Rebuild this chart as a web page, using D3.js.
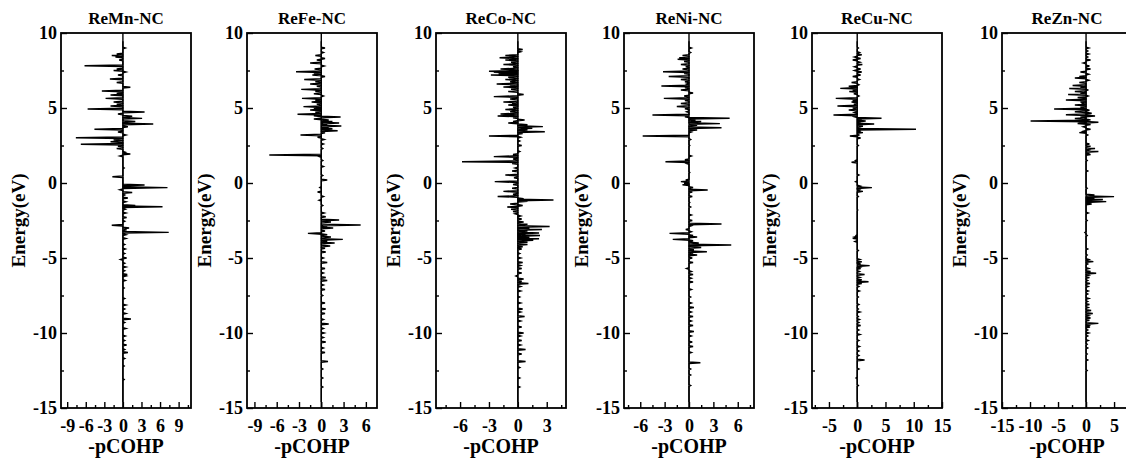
<!DOCTYPE html>
<html>
<head>
<meta charset="utf-8">
<script src="https://cdn.jsdelivr.net/npm/d3@7"></script>
<style>
body { margin: 0; background: #fff; }
text { font-family: "Liberation Serif", "Times New Roman", serif; font-weight: bold; fill: #000; }
</style>
</head>
<body>
<svg width="1126" height="464"></svg>
<script>
/*
Data
*/
// panel titles and axis setup
var titles = ["ReMn-NC", "ReFe-NC", "ReCo-NC", "ReNi-NC", "ReCu-NC", "ReZn-NC"];
var xDomains = [[-10, 11], [-10, 7.5], [-8.5, 5], [-8, 8], [-8, 15], [-15, 8.2]];
var xMajor = [
    [-9, -6, -3, 0, 3, 6, 9],
    [-9, -6, -3, 0, 3, 6],
    [-6, -3, 0, 3],
    [-6, -3, 0, 3, 6],
    [-5, 0, 5, 10, 15],
    [-15, -10, -5, 0, 5]
];
var xMinor = [
    [-7.5, -4.5, -1.5, 1.5, 4.5, 7.5, 10.5],
    [-7.5, -4.5, -1.5, 1.5, 4.5, 7.5],
    [-7.5, -4.5, -1.5, 1.5, 4.5],
    [-7.5, -4.5, -1.5, 1.5, 4.5, 7.5],
    [-7.5, -2.5, 2.5, 7.5, 12.5],
    [-12.5, -7.5, -2.5, 2.5, 7.5]
];
var yMajor = [-15, -10, -5, 0, 5, 10];
var yMinor = [-12.5, -7.5, -2.5, 2.5, 7.5];

// -pCOHP peaks, [energy (eV), value]
var reMn = [[9.0,0.4],[8.6,-1.0],[8.5,-1.8],[8.4,-1.2],[8.2,-0.6],[7.82,-6.2],[7.6,-1.0],[7.5,-1.5],[7.4,0.5],[7.2,-0.8],
    [6.93,-2.1],[6.7,-1.0],[6.38,1.2],[6.13,-3.4],[5.97,-1.0],[5.87,-2.0],[5.64,-2.8],[5.4,-1.5],[5.25,-1.0],[5.13,-2.0],
    [4.93,-5.7],[4.73,3.5],[4.6,-0.8],[4.45,1.5],[4.31,3.1],[4.1,2.0],[3.93,4.9],[3.75,0.8],[3.58,-4.6],[3.4,-0.8],
    [3.2,0.5],[3.02,-7.6],[2.88,-1.5],[2.75,-2.0],[2.58,-6.8],[2.45,-0.8],[2.3,-1.0],[2.05,0.4],[1.93,1.2],[1.8,-0.5],
    [1.0,0.2],[0.42,-1.7],[-0.13,3.5],[-0.22,1.0],[-0.31,7.2],[-0.45,-0.5],[-0.63,1.5],[-0.8,0.3],[-1.0,0.8],[-1.25,0.5],
    [-1.5,2.0],[-1.58,6.4],[-1.75,0.4],[-2.0,0.5],[-2.3,0.6],[-2.55,0.3],[-2.82,-1.8],[-3.0,1.0],[-3.12,0.6],[-3.29,7.4],
    [-3.45,0.5],[-3.7,0.5],[-4.1,0.3],[-4.4,0.4],[-4.7,0.3],[-5.0,0.6],[-5.1,-0.4],[-5.35,0.3],[-5.6,0.5],[-5.85,0.3],
    [-6.1,0.7],[-6.2,0.5],[-6.5,0.4],[-7.0,0.2],[-7.7,0.3],[-8.13,0.5],[-8.4,0.3],[-8.7,0.5],[-9.07,1.3],[-9.3,0.3],
    [-9.7,0.5],[-10.2,0.4],[-10.5,0.3],[-10.8,0.6],[-11.1,0.3],[-11.3,0.8],[-11.7,0.3],[-12.2,0.2],[-13.1,0.2]];
var reFe = [[9.0,0.5],[8.7,0.3],[8.5,-0.8],[8.3,0.5],[8.2,-0.6],[8.0,-1.5],[7.8,0.4],[7.6,-0.9],[7.42,-3.4],[7.3,-1.0],
    [7.2,-1.2],[7.1,0.5],[6.9,-2.3],[6.75,-0.8],[6.6,-1.5],[6.45,-0.6],[6.24,-2.7],[6.1,-0.8],[5.95,-1.0],[5.8,0.3],
    [5.64,-2.6],[5.5,-0.8],[5.4,-1.3],[5.25,-0.6],[5.09,-2.4],[4.97,-1.0],[4.87,-1.5],[4.72,-0.8],[4.58,-3.2],[4.48,-1.0],
    [4.4,2.6],[4.27,-1.0],[4.2,1.0],[4.1,1.5],[4.0,2.4],[3.9,0.8],[3.8,2.7],[3.7,1.0],[3.62,1.5],[3.48,2.2],
    [3.35,0.5],[3.2,-2.8],[3.05,-0.5],[2.9,0.4],[2.6,0.3],[2.3,0.2],[1.87,-7.0],[1.76,-0.3],[1.5,0.2],[1.1,0.3],
    [0.5,0.2],[0.2,0.8],[-0.3,-0.2],[-0.6,-0.5],[-0.9,0.3],[-1.15,-0.3],[-1.5,0.2],[-2.0,0.4],[-2.25,0.6],[-2.47,2.4],
    [-2.6,1.3],[-2.8,5.3],[-2.9,0.8],[-3.0,1.6],[-3.2,0.5],[-3.36,-1.8],[-3.45,0.8],[-3.6,1.3],[-3.76,2.9],[-3.9,0.8],
    [-4.0,1.8],[-4.2,1.2],[-4.35,0.5],[-4.6,0.6],[-5.0,0.3],[-5.3,0.8],[-5.7,0.5],[-6.0,0.3],[-6.3,0.6],[-6.5,0.8],
    [-6.8,0.3],[-7.1,0.5],[-7.5,0.2],[-8.0,0.5],[-8.4,0.6],[-8.7,0.5],[-9.1,0.3],[-9.4,1.0],[-9.7,0.3],[-10.0,0.4],
    [-10.3,0.3],[-10.6,0.6],[-11.0,0.3],[-11.3,0.5],[-11.9,0.9],[-12.4,0.2],[-13.0,0.2],[-13.6,0.2]];
var reCo = [[8.9,0.5],[8.75,0.3],[8.5,-1.3],[8.35,-1.9],[8.2,-1.3],[8.05,-0.7],[7.9,-1.5],[7.75,-0.5],[7.6,-1.8],[7.45,-3.0],
    [7.38,-2.5],[7.3,-2.0],[7.2,-2.8],[7.05,-1.0],[6.9,-1.3],[6.75,-0.8],[6.6,-2.2],[6.5,-0.8],[6.4,-1.5],[6.25,-0.7],
    [6.1,-1.0],[5.9,0.6],[5.76,-2.5],[5.6,-0.8],[5.4,-1.5],[5.3,-0.6],[5.2,-1.0],[5.05,-0.5],[4.9,-1.3],[4.75,-0.8],
    [4.6,-1.8],[4.47,-2.1],[4.35,-0.5],[4.2,0.7],[4.1,-0.5],[4.0,-1.0],[3.88,1.0],[3.76,2.6],[3.65,1.5],[3.55,1.0],
    [3.42,2.8],[3.3,0.5],[3.13,-3.0],[3.05,0.3],[2.8,0.2],[2.5,0.4],[2.1,0.2],[1.9,-0.5],[1.76,-2.5],[1.6,-0.5],
    [1.42,-5.8],[1.3,-0.6],[1.0,-0.3],[0.8,-0.6],[0.53,-1.3],[0.35,-0.4],[0.09,-2.4],[-0.1,-0.5],[-0.35,-0.6],[-0.56,-1.5],
    [-0.75,-0.5],[-0.9,-2.1],[-1.05,0.6],[-1.13,3.7],[-1.22,1.0],[-1.4,-0.8],[-1.5,0.5],[-1.6,-1.1],[-1.75,-0.7],[-1.9,-0.5],
    [-2.05,-0.3],[-2.2,0.3],[-2.4,0.4],[-2.6,0.6],[-2.75,1.0],[-2.9,3.3],[-3.0,1.2],[-3.1,2.5],[-3.2,1.0],[-3.33,2.2],
    [-3.42,0.8],[-3.5,2.3],[-3.62,1.2],[-3.72,2.2],[-3.82,1.6],[-3.95,1.0],[-4.1,1.0],[-4.25,0.5],[-4.4,0.4],[-4.7,0.2],
    [-5.0,0.3],[-5.3,0.5],[-5.5,0.3],[-5.7,0.4],[-6.0,0.4],[-6.2,-0.2],[-6.4,0.6],[-6.55,0.4],[-6.7,1.1],[-6.9,0.3],
    [-7.2,0.3],[-7.6,0.2],[-8.0,0.3],[-8.4,0.5],[-8.6,0.3],[-8.9,0.7],[-9.2,0.3],[-9.6,0.4],[-10.0,0.6],[-10.2,0.3],
    [-10.5,0.4],[-10.8,0.3],[-11.1,0.8],[-11.4,0.4],[-11.9,0.8],[-12.3,0.2],[-13.0,0.2],[-13.6,0.2]];
var reNi = [[9.0,0.3],[8.7,0.2],[8.5,-0.8],[8.35,-1.2],[8.25,-1.4],[8.1,-0.6],[7.9,-1.0],[7.75,-0.4],[7.6,-0.8],[7.42,-3.2],
    [7.3,-0.6],[7.1,-2.5],[6.9,-1.0],[6.75,-0.5],[6.6,-0.3],[6.47,-3.4],[6.35,-0.5],[6.2,-1.0],[6.0,0.5],[5.8,-0.6],
    [5.64,-3.1],[5.5,-0.5],[5.3,-1.0],[5.1,-1.5],[4.95,-0.5],[4.75,-0.3],[4.53,-4.5],[4.42,-0.5],[4.32,5.0],[4.2,0.8],
    [4.1,1.5],[3.96,3.8],[3.85,1.0],[3.68,4.0],[3.53,1.0],[3.4,0.3],[3.13,-5.7],[2.9,0.2],[2.5,0.1],[1.8,0.3],
    [1.55,-0.5],[1.42,-2.9],[1.3,-0.3],[0.7,0.1],[0.2,-0.4],[0.09,-1.0],[-0.02,-0.6],[-0.12,-0.8],[-0.3,0.5],[-0.47,2.3],
    [-0.6,0.4],[-0.9,0.4],[-1.3,0.1],[-1.6,0.2],[-2.13,0.3],[-2.5,0.4],[-2.73,4.0],[-2.85,0.3],[-3.1,-0.4],[-3.25,0.3],
    [-3.36,-2.4],[-3.5,0.5],[-3.6,1.0],[-3.76,-2.0],[-3.85,0.5],[-4.0,1.2],[-4.13,5.2],[-4.3,1.5],[-4.45,0.6],[-4.58,2.2],
    [-4.7,0.5],[-4.8,1.0],[-5.0,0.4],[-5.3,0.5],[-5.7,-0.3],[-5.9,0.3],[-6.1,0.5],[-6.35,0.3],[-6.6,0.5],[-7.1,0.3],
    [-7.6,0.2],[-8.0,0.3],[-8.3,0.6],[-8.6,0.3],[-8.9,0.5],[-9.2,0.3],[-9.5,0.5],[-9.9,0.6],[-10.2,0.3],[-10.6,0.4],
    [-10.9,0.5],[-11.3,0.3],[-11.98,1.4],[-12.4,0.2],[-12.8,0.2],[-13.5,0.2]];
var reCu = [[9.0,0.2],[8.7,0.4],[8.55,0.8],[8.4,-0.5],[8.3,0.6],[8.2,-0.8],[8.05,0.5],[7.9,0.9],[7.75,-0.5],[7.6,0.6],
    [7.5,-0.5],[7.4,0.8],[7.2,0.6],[7.1,-0.8],[6.9,0.4],[6.7,-1.0],[6.55,0.3],[6.45,-1.5],[6.31,-3.0],[6.2,-0.8],
    [6.1,-1.4],[5.95,-0.6],[5.8,0.3],[5.64,-3.8],[5.5,-0.8],[5.4,-1.0],[5.25,-0.6],[5.13,-3.5],[5.0,-0.8],[4.87,-1.5],
    [4.7,-0.5],[4.53,-4.2],[4.42,-0.5],[4.32,4.3],[4.2,0.8],[4.13,1.5],[4.03,0.6],[3.93,3.0],[3.78,1.0],[3.68,0.6],
    [3.58,10.4],[3.45,0.6],[3.36,1.0],[3.2,0.3],[3.13,-1.3],[3.0,0.6],[2.5,0.2],[1.5,-0.3],[1.38,-1.0],[0.53,0.3],
    [0.09,-0.3],[-0.2,0.5],[-0.31,2.6],[-0.45,0.4],[-0.56,1.0],[-0.9,0.2],[-1.8,0.1],[-3.5,-0.2],[-3.6,-0.5],[-3.69,-0.8],
    [-3.9,-0.4],[-4.5,0.2],[-5.1,0.5],[-5.25,0.8],[-5.4,0.6],[-5.51,2.2],[-5.62,0.5],[-5.7,0.6],[-5.9,0.4],[-6.1,1.3],
    [-6.3,0.5],[-6.45,0.8],[-6.58,2.0],[-6.7,0.8],[-6.9,0.3],[-7.2,0.4],[-7.6,0.2],[-8.1,0.3],[-8.4,0.2],[-8.6,0.5],
    [-8.9,0.2],[-9.1,0.4],[-9.3,0.3],[-9.5,0.6],[-9.8,0.3],[-10.1,0.5],[-10.5,0.3],[-10.9,0.4],[-11.2,0.3],[-11.5,0.3],
    [-11.8,1.3],[-12.4,0.3],[-13.0,-0.2],[-13.5,0.2]];
var reZn = [[9.0,0.5],[8.8,0.3],[8.6,0.5],[8.4,0.3],[8.2,0.8],[8.0,-0.5],[7.8,0.6],[7.6,0.8],[7.4,-1.0],[7.25,0.5],
    [7.1,-1.2],[7.0,-2.0],[6.85,0.5],[6.7,-1.2],[6.5,-2.4],[6.4,-1.0],[6.3,-3.0],[6.2,0.3],[6.1,-2.0],[6.0,-1.0],
    [5.9,-3.2],[5.8,0.4],[5.7,-1.5],[5.53,-3.6],[5.4,-1.0],[5.3,-0.8],[5.2,-2.0],[5.05,-1.0],[4.93,-5.7],[4.85,0.6],
    [4.75,-2.0],[4.65,1.0],[4.55,-3.6],[4.47,1.6],[4.38,-1.0],[4.3,-2.0],[4.21,0.8],[4.13,-9.9],[4.05,2.2],[3.97,-1.5],
    [3.9,0.8],[3.75,-0.5],[3.58,0.8],[3.45,-0.5],[3.36,-1.2],[3.2,0.3],[2.6,0.6],[2.45,0.8],[2.3,1.6],[2.2,0.5],
    [2.1,2.2],[2.0,0.6],[1.9,0.8],[1.5,0.2],[0.8,0.3],[-0.35,0.2],[-0.8,1.5],[-0.91,5.0],[-1.0,1.5],[-1.1,3.0],
    [-1.17,1.2],[-1.24,3.6],[-1.32,0.8],[-1.4,1.0],[-2.0,0.4],[-2.5,0.2],[-3.3,-0.2],[-3.5,0.2],[-4.4,0.3],[-4.8,0.2],
    [-5.1,0.5],[-5.24,1.3],[-5.4,0.3],[-5.7,0.5],[-5.9,0.8],[-6.02,1.8],[-6.15,0.5],[-6.3,0.6],[-6.5,0.3],[-6.7,0.7],
    [-6.9,0.4],[-7.2,0.4],[-7.4,0.3],[-7.7,0.5],[-7.9,0.3],[-8.1,0.6],[-8.3,0.4],[-8.5,0.9],[-8.7,1.2],[-8.85,0.5],
    [-9.0,0.8],[-9.15,0.6],[-9.36,2.2],[-9.5,0.5],[-9.6,0.7],[-9.8,0.3],[-10.0,0.5],[-10.2,0.3],[-10.5,0.4],[-10.75,0.2],
    [-11.0,0.3],[-11.4,0.2],[-11.8,0.3],[-12.5,0.2]];
var series = [reMn, reFe, reCo, reNi, reCu, reZn];

/*
Layout
*/
var svg = d3.select("svg");
var panelLeft = [61, 247, 436, 624, 812, 1002];
var panelWidth = 130;
var plotTop = 33, plotBottom = 408;
var halfWidth = 0.055; // half width of a spike in eV

var y = d3.scaleLinear().domain([-15, 10]).range([plotBottom, plotTop]);

// turns peaks into a zig-zag line along the zero axis
function spikes(peaks) {
    var pts = [[9.45, 0]];
    peaks.forEach(function (p) {
        pts.push([p[0] + halfWidth, 0], [p[0], p[1]], [p[0] - halfWidth, 0]);
    });
    pts.push([-14.6, 0]);
    return pts;
}

var fmt = function (d) { return d < 0 ? "-" + Math.abs(d) : d; };

titles.forEach(function (name, i) {
    var left = panelLeft[i];
    var x = d3.scaleLinear().domain(xDomains[i]).range([left, left + panelWidth]);
    var g = svg.append("g");

    // zero line
    g.append("line")
        .attr("x1", x(0)).attr("x2", x(0))
        .attr("y1", plotTop).attr("y2", plotBottom)
        .attr("stroke", "#000").attr("stroke-width", 1.4);

    // curve
    var line = d3.line()
        .x(function (d) { return x(d[1]); })
        .y(function (d) { return y(d[0]); });
    g.append("path")
        .datum(spikes(series[i]))
        .attr("d", line)
        .attr("fill", "none")
        .attr("stroke", "#000")
        .attr("stroke-width", 1.4)
        .attr("stroke-linejoin", "miter");

    // axes
    g.append("g").attr("transform", "translate(0," + plotBottom + ")")
        .call(d3.axisBottom(x).tickValues(xMajor[i]).tickSize(-6).tickPadding(11).tickFormat(fmt));
    g.append("g").attr("transform", "translate(0," + plotBottom + ")")
        .call(d3.axisBottom(x).tickValues(xMinor[i].filter(function (v) {
            return v > xDomains[i][0] && v < xDomains[i][1];
        })).tickSize(-3).tickFormat(""));
    g.append("g").attr("transform", "translate(" + left + ",0)")
        .call(d3.axisLeft(y).tickValues(yMajor).tickSize(-6).tickPadding(4).tickFormat(fmt));
    g.append("g").attr("transform", "translate(" + left + ",0)")
        .call(d3.axisLeft(y).tickValues(yMinor).tickSize(-3).tickFormat(""));

    g.selectAll(".domain").remove();
    g.selectAll(".tick line").attr("stroke", "#000").attr("stroke-width", 1.4);
    g.selectAll(".tick text").attr("font-size", 18).attr("font-family", null).attr("fill", "#000");

    // frame
    g.append("rect")
        .attr("x", left).attr("y", plotTop)
        .attr("width", panelWidth).attr("height", plotBottom - plotTop)
        .attr("fill", "none").attr("stroke", "#000").attr("stroke-width", 1.8);

    // titles
    g.append("text")
        .attr("x", left + panelWidth / 2).attr("y", 24)
        .attr("text-anchor", "middle").attr("font-size", 17)
        .text(name);
    g.append("text")
        .attr("x", left + panelWidth / 2).attr("y", 453)
        .attr("text-anchor", "middle").attr("font-size", 20)
        .text("-pCOHP");
    g.append("text")
        .attr("transform", "translate(" + (left - 36) + "," + ((plotTop + plotBottom) / 2) + ") rotate(-90)")
        .attr("text-anchor", "middle").attr("font-size", 19)
        .text("Energy(eV)");
});
</script>
</body>
</html>
